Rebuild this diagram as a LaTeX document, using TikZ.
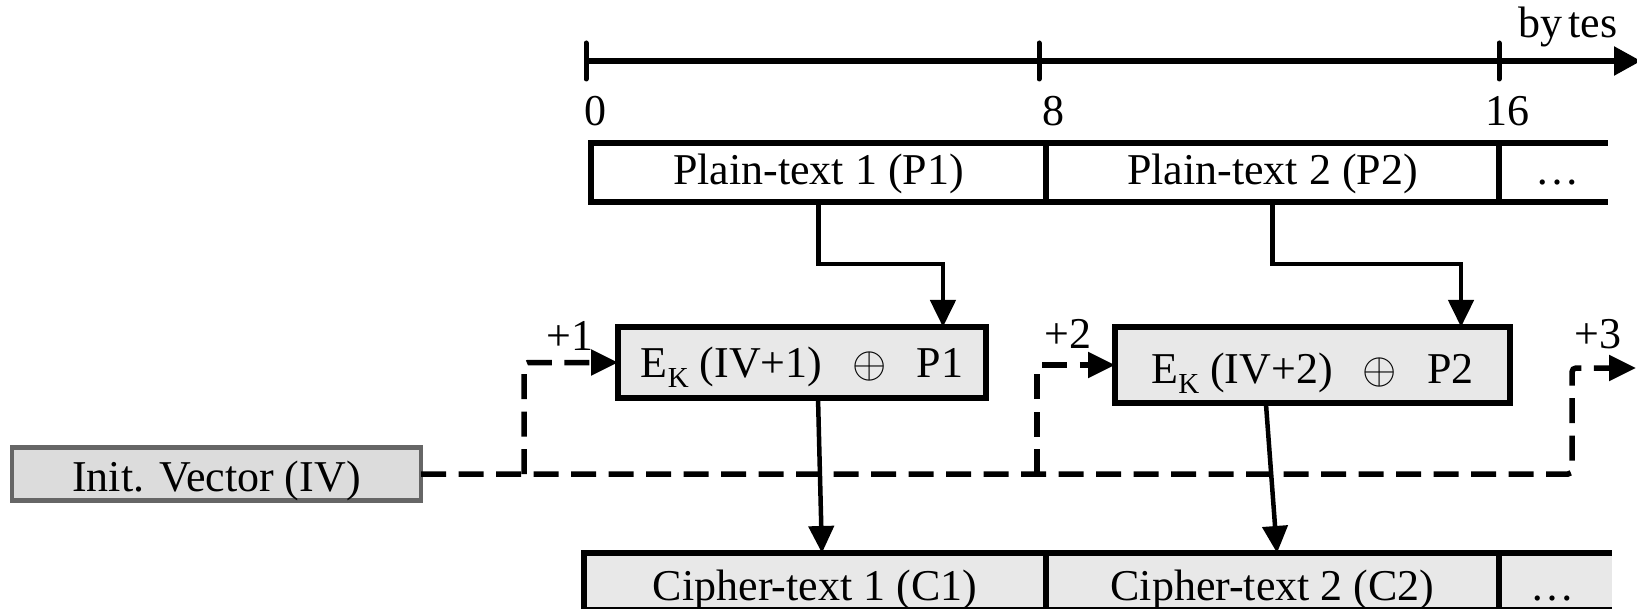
\documentclass[tikz,border=0pt]{standalone}
\usepackage{fix-cm}
\usepackage{fontspec}
\setmainfont{Liberation Serif}
\usetikzlibrary{arrows.meta,calc}
\definecolor{cellgray}{HTML}{E8E8E8}
\definecolor{ivgray}{HTML}{DCDCDC}
\definecolor{ivedge}{HTML}{666666}
\newcommand{\ek}{E\raisebox{-10pt}{\fontsize{29}{29}\selectfont K}}
\begin{document}
\begin{tikzpicture}[x=1pt,y=-1pt,
  txt/.style={font=\fontsize{44}{50}\selectfont, inner sep=0pt, outer sep=0pt},
  rowcell/.style={txt, draw, line width=5.5pt, text depth=5pt},
  ebox/.style={rowcell, fill=cellgray},
  flow/.style={line width=4.5pt, -{Triangle[length=27pt,width=25pt]}},
  ivflow/.style={line width=5.5pt, dash pattern=on 25pt off 12.5pt, rounded corners=4pt,
    -{Triangle[length=27pt,width=25pt]}}]
\useasboundingbox (0,0) rectangle (1637,609);

% byte axis
\draw[line width=5.5pt, -{Triangle[length=27pt,width=28pt]}] (586,61) -- (1641,61);
\foreach \x in {586,1039,1499}
  \draw[line width=5pt, line cap=round] (\x,43) -- (\x,79);
\node[txt] (b0) at (595,111) {0};
\node[txt] (b8) at (1053,111) {8};
\node[txt] (b16) at (1507,111) {16};
\node[txt, anchor=base] (unit) at (1568,38) {by\kern-5pt{} tes};

% plain-text blocks
\node[rowcell, text height=30pt, minimum width=455pt, minimum height=59pt] (P1) at (818.5,172.5) {Plain-text 1 (P1)};
\node[rowcell, text height=30pt, minimum width=453pt, minimum height=59pt] (P2) at (1272.5,172.5) {Plain-text 2 (P2)};
\draw[line width=5.5pt] (P2.north east) -- (1608,143);
\draw[line width=5.5pt] (P2.south east) -- (1608,202);
\node[txt, anchor=base] (P3) at (1557,185) {…};

% cipher-text blocks
\fill[cellgray] (1499,553) rectangle (1612,610);
\node[rowcell, fill=cellgray, text height=42pt, minimum width=462pt, minimum height=57pt] (C1) at (815,581.5) {Cipher-text 1 (C1)};
\node[rowcell, fill=cellgray, text height=42pt, minimum width=453pt, minimum height=57pt] (C2) at (1272.5,581.5) {Cipher-text 2 (C2)};
\draw[line width=5.5pt] (C2.north east) -- (1612,553);
\draw[line width=5.5pt] (C2.south east) -- (1612,610);
\node[txt, anchor=base] (C3) at (1552,600) {…};

% encryption blocks
\node[ebox, text height=34pt, minimum width=368pt, minimum height=71pt] (E1) at (802,362.5)
  {\ek\ (IV+1)\hspace{30pt}$\oplus$\hspace{30pt}P1};
\node[ebox, text height=41pt, minimum width=395pt, minimum height=76pt] (E2) at (1312.5,365)
  {\ek\ (IV+2)\hspace{30pt}$\oplus$\hspace{30pt}P2};

% initialisation vector
\node[txt, draw=ivedge, fill=ivgray, line width=4.5pt, text height=39pt, text depth=5pt,
  minimum width=409pt, minimum height=53pt] (IV) at (216.5,474) {Init. Vector (IV)};

% counter labels
\node[txt, anchor=base] (inc1) at (570,350) {+1};
\node[txt, anchor=base] (inc2) at (1068,348) {+2};
\node[txt, anchor=base] (inc3) at (1598,348) {+3};

% plain-text into the XOR blocks
\draw[flow] (P1.south) -- ++(0,62) -| ($(E1.north west)!0.883!(E1.north east)$);
\draw[flow] (P2.south) -- ++(0,62) -| ($(E2.north west)!0.876!(E2.north east)$);

% XOR blocks down to cipher-text
\draw[flow] ($(E1.south west)!0.5435!(E1.south east)$) -- ($(C1.north west)!0.515!(C1.north east)$);
\draw[flow] ($(E2.south west)!0.382!(E2.south east)$) -- ($(C2.north west)!0.51!(C2.north east)$);

% counter path from the IV
\coordinate (j1) at (524,474);
\coordinate (j2) at (1037,474);
\coordinate (j3) at (1572,474);
\coordinate (out3) at (1636,368);
\draw[ivflow] (IV.east) -- (j3) |- (out3);
\draw[ivflow] (j1) |- (E1.west);
\draw[ivflow] (j2) |- (E2.west);
\end{tikzpicture}
\end{document}
